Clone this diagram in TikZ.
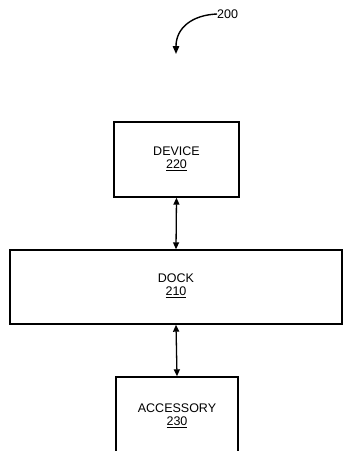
\documentclass[tikz,border=0pt]{standalone}
\usepackage{fontspec}
\setmainfont{Liberation Sans}
\usetikzlibrary{arrows.meta}
\begin{document}
\begin{tikzpicture}[x=1pt,y=-1pt,
  lbl/.style={font=\fontsize{12.5}{15}\selectfont,align=center},
  blockbox/.style={draw,line width=1.4pt,inner sep=0pt},
  link/.style={line width=1.3pt,{Triangle[length=7pt,width=6pt]}-{Triangle[length=7pt,width=6pt]}}]
\useasboundingbox (0,0) rectangle (343,451);
\clip (0,0) rectangle (343,451);
\node[blockbox,minimum width=125pt,minimum height=75pt] (device) at (176.5,159.5) {};
\node[lbl] (devicetxt) at (176.5,159) {DEVICE\\[-2pt]\underline{220}};
\node[blockbox,minimum width=332pt,minimum height=74pt] (dock) at (176,287) {};
\node[lbl] (docktxt) at (176,286) {DOCK\\[-2pt]\underline{210}};
\node[blockbox,minimum width=122pt,minimum height=100pt] (accessory) at (177,427) {};
\node[lbl] (accessorytxt) at (177,416) {ACCESSORY\\[-2pt]\underline{230}};
\draw[link] (device.south) -- (dock.north);
\draw[link] (dock.south) -- (accessory.north);
\node[lbl,anchor=west,inner sep=0pt] (ref) at (217,14) {200};
\draw[line width=1.4pt,-{Triangle[length=8pt,width=6.5pt]}] (ref.west) .. controls (192,15) and (176,28) .. (176,54);
\end{tikzpicture}
\end{document}
